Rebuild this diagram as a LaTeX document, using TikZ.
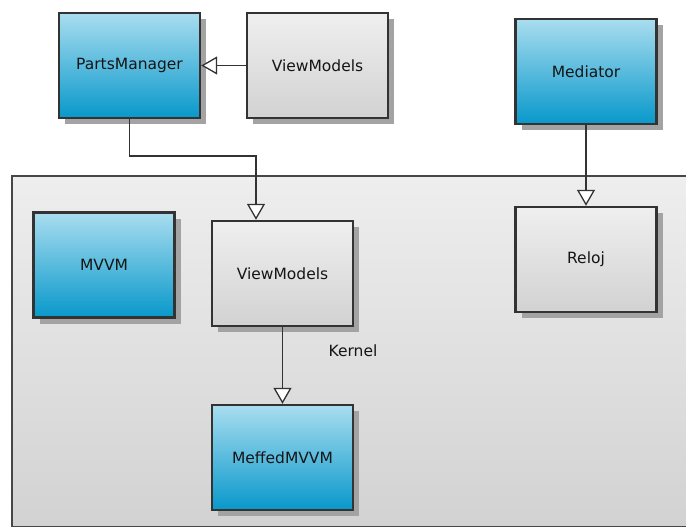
\documentclass[tikz,border=0pt]{standalone}
\usepackage{fontspec}
\setmainfont{DejaVu Sans}
\usetikzlibrary{arrows.meta,shadows}
\definecolor{bluetop}{HTML}{A9DDEF}
\definecolor{bluebot}{HTML}{0898CB}
\definecolor{greytop}{HTML}{EFEFEF}
\definecolor{greybot}{HTML}{D2D2D2}
\definecolor{pkgtop}{HTML}{EEEEEE}
\definecolor{pkgbot}{HTML}{D2D2D2}
\definecolor{edge}{HTML}{333333}
\definecolor{shade}{HTML}{A3A3A3}
\definecolor{txt}{HTML}{151515}
\tikzset{
  umlbox/.style={draw=edge, line width=2.4pt, minimum width=141pt, minimum height=105pt,
    inner sep=0pt, font=\fontsize{15.5}{17}\selectfont, text=txt,
    drop shadow={shadow xshift=6pt, shadow yshift=-6pt, fill=shade, opacity=1}},
  bluebox/.style={umlbox, top color=bluetop, bottom color=bluebot},
  greybox/.style={umlbox, top color=greytop, bottom color=greybot},
  pkg/.style={draw=edge!90, line width=1.6pt, top color=pkgtop, bottom color=pkgbot,
    inner sep=0pt},
  inherit/.style={draw=edge, line width=1.3pt, -{Triangle[open, length=16pt, width=18pt, fill=white]}},
  lbl/.style={font=\fontsize{15.5}{17}\selectfont, text=txt, inner sep=0pt}
}
\begin{document}
\begin{tikzpicture}[x=1pt, y=-1pt]
\useasboundingbox (0,0) rectangle (686,527);
% Kernel package
\node[pkg, anchor=north west, minimum width=690pt, minimum height=351pt] (kernel) at (11,175) {};
\node[lbl] (kernellbl) at (353,351) {Kernel};
% boxes
\node[bluebox] (pm) at (129.5,65.5) {PartsManager};
\node[greybox] (vm1) at (317.5,65.5) {ViewModels};
\node[bluebox] (med) at (586,71.5) {Mediator};
\node[bluebox] (mvvm) at (104,265) {MVVM};
\node[greybox] (vm2) at (282.5,273.5) {ViewModels};
\node[bluebox] (meffed) at (282.5,457.5) {MeffedMVVM};
\node[greybox] (reloj) at (586,259.5) {Reloj};
% connectors
\coordinate (bend) at (256,156);
\draw[inherit] (vm1.west) -- (pm.east);
\draw[inherit] (pm.south) |- (bend) -- (bend |- vm2.north);
\draw[inherit] (vm2.south) -- (meffed.north);
\draw[inherit] (med.south) -- (reloj.north);
\end{tikzpicture}
\end{document}
